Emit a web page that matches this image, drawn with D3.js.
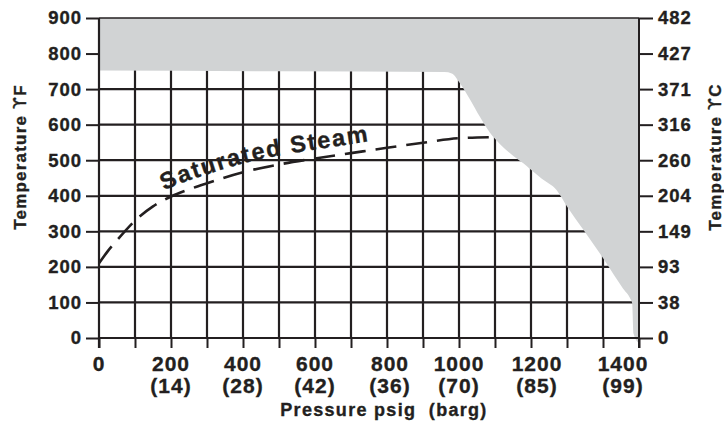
<!DOCTYPE html>
<html lang="en">
<head>
<meta charset="UTF-8">
<title>Saturated steam chart</title>
<script src="https://d3js.org/d3.v7.min.js"></script>
<style>
  body { margin: 0; background: #fff; }
  svg text { font-family: "Liberation Sans", Arial, sans-serif; font-weight: bold; fill: #231f20;
             stroke: #231f20; stroke-width: 0.35px; white-space: pre; }
  .sym { font-family: "DejaVu Sans", sans-serif; font-weight: normal; }
</style>
</head>
<body>
<div id="chart"></div>
<script>
// axis ticks / labels
const tempF = [0, 100, 200, 300, 400, 500, 600, 700, 800, 900];
const tempC = ["0", "38", "93", "149", "204", "260", "316", "371", "427", "482"];
const psigLabels = [0, 200, 400, 600, 800, 1000, 1200, 1400];
const bargLabels = ["", "(14)", "(28)", "(42)", "(36)", "(70)", "(85)", "(99)"];
const psigTicks = [0, 100, 200, 300, 400, 500, 600, 700, 800, 900, 1000, 1100, 1200, 1300, 1400, 1500];

// saturated steam curve (psig, degF)
const satPsig = [0, 25, 50, 100, 150, 200, 250, 300, 400, 500, 600, 700, 800, 900, 1000, 1100];
const satTemp = [210, 245, 275, 330, 370, 398, 418, 435, 466, 488, 505, 520, 535, 549, 562, 565];

// lower edge of the shaded region
const limitPsig = [0, 500, 960, 980, 1003, 1031, 1058, 1086, 1114, 1151, 1188, 1200, 1230, 1271, 1300, 1346, 1400, 1430, 1455, 1477, 1481, 1485, 1499];
const limitTemp = [752, 750, 748, 744, 716, 670, 622, 577, 545, 512, 484, 473, 448, 416, 370, 304, 225, 178, 140, 108, 98, 12, -14];

const width = 724;
const height = 422;
const ink = "#231f20";

const svg = d3.select("#chart")
    .append("svg")
    .attr("width", width)
    .attr("height", height);

const x = d3.scaleLinear().domain([0, 1500]).range([99, 639]);
const y = d3.scaleLinear().domain([0, 900]).range([338, 18]);

// grid
svg.append("g")
    .selectAll("line")
    .data(psigTicks.slice(1, -1))
    .join("line")
    .attr("x1", d => x(d)).attr("x2", d => x(d))
    .attr("y1", y(0)).attr("y2", y(900))
    .attr("stroke", ink).attr("stroke-width", 2.2);

svg.append("g")
    .selectAll("line")
    .data(tempF.slice(1, -1))
    .join("line")
    .attr("x1", x(0)).attr("x2", x(1500))
    .attr("y1", d => y(d)).attr("y2", d => y(d))
    .attr("stroke", ink).attr("stroke-width", 2.2);

// shaded region
const limit = limitPsig.map((p, i) => [p, limitTemp[i]]);
svg.append("path")
    .datum(limit)
    .attr("d", d3.area()
        .x(d => x(d[0]))
        .y0(y(900))
        .y1(d => y(d[1]))
        .curve(d3.curveMonotoneX))
    .attr("fill", "#d1d3d4");

// axes
function styleAxis(g, size) {
    g.select(".domain").remove();
    g.attr("color", ink);
    g.selectAll(".tick line").attr("stroke-width", 2);
    g.selectAll(".tick text")
        .style("font-size", size + "px")
        .style("letter-spacing", "1px");
}

svg.append("g")
    .attr("transform", `translate(${x(0)},0)`)
    .call(d3.axisLeft(y).tickValues(tempF).tickSize(13).tickPadding(4))
    .call(g => styleAxis(g, 18.5));

svg.append("g")
    .attr("transform", `translate(${x(1500)},0)`)
    .call(d3.axisRight(y).tickValues(tempF).tickSize(14).tickPadding(5)
        .tickFormat((d, i) => tempC[i]))
    .call(g => styleAxis(g, 18.5));

svg.append("g")
    .attr("transform", `translate(0,${y(0)})`)
    .call(d3.axisBottom(x).tickValues(psigTicks).tickSize(10).tickFormat(""))
    .call(g => styleAxis(g, 18));

// frame
const frame = [
    [x(0), y(900), x(1500), y(900), 1.6],
    [x(0), y(900), x(0), y(0) + 10, 2.2],
    [x(1500), y(900), x(1500), y(0) + 10, 2],
    [x(0), y(0), x(1500), y(0), 2.2]
];
svg.append("g")
    .selectAll("line")
    .data(frame)
    .join("line")
    .attr("x1", d => d[0]).attr("y1", d => d[1])
    .attr("x2", d => d[2]).attr("y2", d => d[3])
    .attr("stroke", ink).attr("stroke-width", d => d[4]);

// bottom labels (psig / barg)
const labelShift = { 800: 3, 1200: 6, 1400: 20 };
const bottom = svg.append("g").attr("text-anchor", "middle")
    .style("font-size", "21px");
bottom.selectAll("text.psig")
    .data(psigLabels)
    .join("text")
    .attr("class", "psig")
    .attr("x", d => x(d) + (labelShift[d] || 0))
    .attr("y", 371)
    .style("letter-spacing", "1px")
    .text(d => d);
bottom.selectAll("text.barg")
    .data(psigLabels)
    .join("text")
    .attr("class", "barg")
    .attr("x", d => x(d) + (labelShift[d] || 0))
    .attr("y", 392.5)
    .style("letter-spacing", "1px")
    .text((d, i) => bargLabels[i]);

// saturated steam curve
const sat = satPsig.map((p, i) => [p, satTemp[i]]);
const satLine = d3.line()
    .x(d => x(d[0]))
    .y(d => y(d[1]))
    .curve(d3.curveMonotoneX);

svg.append("path")
    .datum(sat)
    .attr("d", satLine)
    .attr("fill", "none")
    .attr("stroke", ink)
    .attr("stroke-width", 2.6)
    .attr("stroke-dasharray", "21 10");

// label riding above the curve
const labelPath = svg.append("path")
    .datum(sat)
    .attr("id", "steamPath")
    .attr("d", d3.line().x(d => x(d[0])).y(d => y(d[1]) - 9).curve(d3.curveMonotoneX))
    .attr("fill", "none");

const node = labelPath.node();
let start = 0;
while (start < node.getTotalLength() && node.getPointAtLength(start).x < 164) start += 0.5;

svg.append("text")
    .style("font-size", "23.5px")
    .style("letter-spacing", "1.8px")
    .append("textPath")
    .attr("href", "#steamPath")
    .attr("startOffset", start)
    .text("Saturated Steam");

// axis titles
function title(t, unit, transform) {
    const el = svg.append("text")
        .attr("transform", transform)
        .attr("text-anchor", "middle")
        .style("font-size", "17px")
        .style("letter-spacing", "1.2px");
    el.append("tspan").text(t + " ");
    el.append("tspan").attr("class", "sym").text("ϒ");
    el.append("tspan").text(unit);
}
title("Temperature", "F", "translate(26,157) rotate(-90)");
title("Temperature", "C", "translate(721,157) rotate(-90)");

svg.append("text")
    .attr("x", 384)
    .attr("y", 416)
    .attr("text-anchor", "middle")
    .style("font-size", "18px")
    .style("letter-spacing", "1.3px")
    .text("Pressure psig  (barg)");
</script>
</body>
</html>
